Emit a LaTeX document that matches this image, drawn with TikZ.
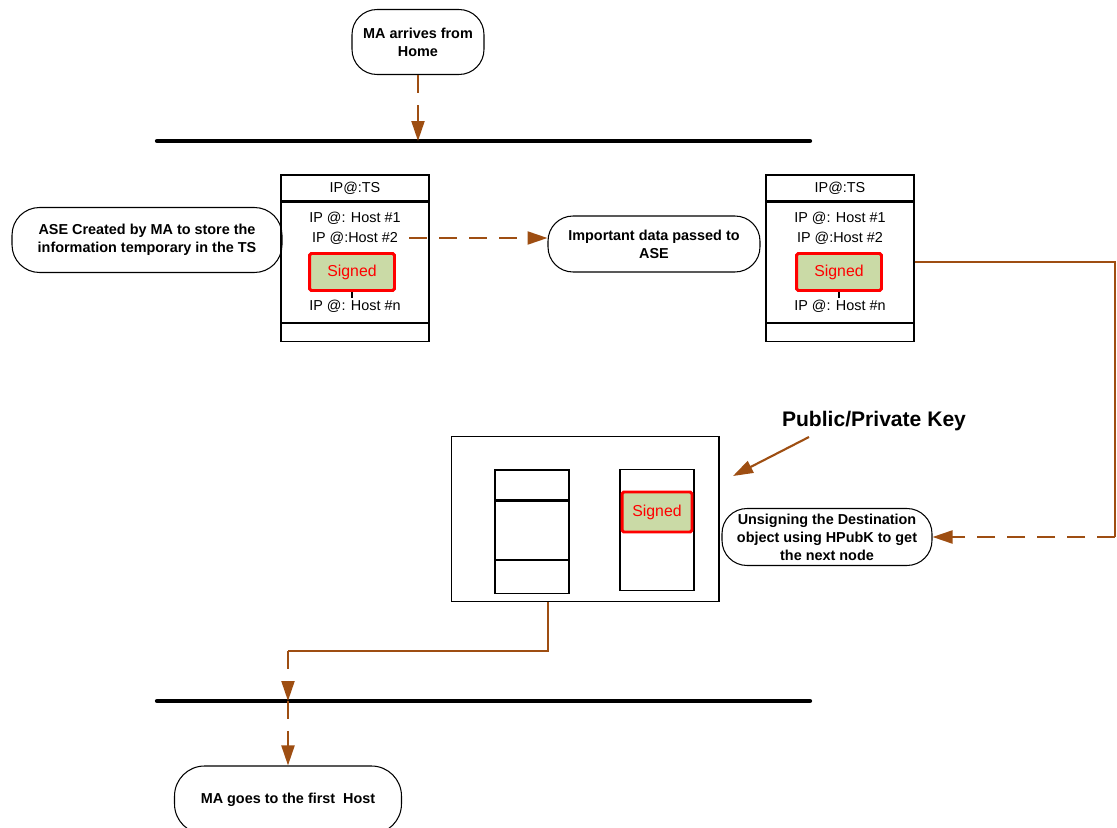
\documentclass[tikz,border=0pt]{standalone}
\usepackage{fontspec}
\setmainfont{Liberation Sans}
\usetikzlibrary{arrows.meta, positioning}
\definecolor{flowbrown}{RGB}{158,78,18}
\definecolor{signgreen}{RGB}{202,218,166}
\definecolor{signred}{RGB}{255,0,0}

\begin{document}
\begin{tikzpicture}[x=0.02cm, y=-0.02cm,
          every node/.style={font=\fontsize{8.2}{10}\selectfont},
          term/.style={rectangle, rounded corners=0.55cm, draw, line width=0.6pt, align=center, inner sep=1pt, font=\bfseries\fontsize{8.2}{10.2}\selectfont},
          tshead/.style={rectangle, draw, line width=0.6pt, minimum width=2.96cm, minimum height=0.52cm, inner sep=0pt},
          tsbody/.style={rectangle, draw, line width=0.6pt, minimum width=2.96cm, minimum height=2.4cm, inner sep=0pt},
          tsfoot/.style={rectangle, draw, line width=0.6pt, minimum width=2.96cm, minimum height=0.36cm, inner sep=0pt},
          cell/.style={rectangle, draw, line width=0.6pt, minimum width=1.48cm, inner sep=0pt},
          txt/.style={inner sep=1pt},
          signed/.style={rectangle, rounded corners=1pt, draw=signred, fill=signgreen, line width=1.7pt, text=signred, minimum width=1.7cm, minimum height=0.74cm, font=\fontsize{9}{10}\selectfont},
          bus/.style={line width=2.4pt, line cap=round},
          flow/.style={flowbrown, line width=1.2pt},
          flowdash/.style={flowbrown, line width=1.2pt, dash pattern=on 3.6mm off 2.4mm},
          tip/.style={-{Triangle[length=4mm, width=2.6mm]}}
        ]
          \useasboundingbox (0,0) rectangle (1117,828);

          % Start
          \node[term, minimum width=2.64cm, minimum height=1.3cm, rounded corners=0.5cm] (home) at (418,42) {MA arrives from\\Home};

          % Buses
          \coordinate (busA-w) at (157,141);
          \coordinate (busA-e) at (810,141);
          \coordinate (busB-w) at (157,701);
          \coordinate (busB-e) at (810,701);
          \draw[bus] (busA-w) -- (busA-e);
          \draw[bus] (busB-w) -- (busB-e);

          % First table
          \node[tshead] (tsA) at (355,188) {IP@:TS};
          \node[tsbody, below=0pt of tsA] (tsAbody) {};
          \node[tsfoot, below=0pt of tsAbody] (tsAfoot) {};
          \node[txt] (hostA1) at (355,218) {IP @: Host \#1};
          \node[txt] (hostA2) at (355,238) {IP @:Host \#2};
          \node[signed] (sigA) at (352,272) {Signed};
          \node[txt] (hostAn) at (355,306) {IP @: Host \#n};
          \draw[line width=0.6pt] (sigA.south) -- (sigA.south |- hostAn.north);

          % Second table
          \node[tshead] (tsB) at (840,188) {IP@:TS};
          \node[tsbody, below=0pt of tsB] (tsBbody) {};
          \node[tsfoot, below=0pt of tsBbody] (tsBfoot) {};
          \node[txt] (hostB1) at (840,218) {IP @: Host \#1};
          \node[txt] (hostB2) at (840,238) {IP @:Host \#2};
          \node[signed] (sigB) at (839,272) {Signed};
          \node[txt] (hostBn) at (840,306) {IP @: Host \#n};
          \draw[line width=0.6pt] (sigB.south) -- (sigB.south |- hostBn.north);

          % Notes
          \node[term, minimum width=5.4cm, minimum height=1.3cm] (ase) at (147,240) {ASE Created by MA to store the\\information temporary in the TS};
          \node[term, minimum width=4.24cm, minimum height=1.12cm, rounded corners=0.5cm] (important) at (654,244) {Important data passed to\\ASE};
          \node[term, minimum width=4.2cm, minimum height=1.14cm, rounded corners=0.5cm] (unsign) at (827,537) {Unsigning the Destination\\object using HPubK to get\\the next node};
          \node[term, minimum width=4.54cm, minimum height=1.36cm, rounded corners=0.6cm] (goes) at (288,800) {MA goes to the first~~Host};

          % Key store
          \node[rectangle, draw, line width=0.6pt, minimum width=5.36cm, minimum height=3.3cm] (keybox) at (585,519) {};
          \node[cell, minimum height=0.6cm] (keyL1) at (532,485) {};
          \node[cell, minimum height=1.16cm, below=0pt of keyL1] (keyL2) {};
          \node[cell, minimum height=0.66cm, below=0pt of keyL2] (keyL3) {};
          \node[cell, minimum height=2.42cm] (keyR) at (657,530) {};
          \node[signed, minimum width=1.4cm, minimum height=0.8cm] (sigK) at (657,512) {Signed};
          \node[font=\bfseries\fontsize{12}{14}\selectfont] (keylbl) at (874,421) {Public/Private Key};

          % Connections
          \coordinate (keytail) at (809,437);
          \coordinate (keyhead) at (733,476);
          \coordinate (rturn) at (1115,537);
          \coordinate (keyout) at (548,602);
          \coordinate (drop) at (288,651);

          \draw[flowdash, tip] (home.south) -- (home.south |- busA-w);
          \draw[flowdash, tip] ([xshift=0.18cm]hostA2.east) -- (hostA2.east -| important.west);
          \draw[flow] (tsBbody.east) -| (rturn);
          \draw[flowdash, tip] (rturn) -- (unsign.east);
          \draw[flow, tip] (keytail) -- (keyhead);
          \draw[flow] (keyout) |- (drop);
          \draw[flowdash, tip] (drop) -- (drop |- busB-w);
          \draw[flowdash, tip] (drop |- busB-w) -- (goes.north);
        \end{tikzpicture}
\end{document}
